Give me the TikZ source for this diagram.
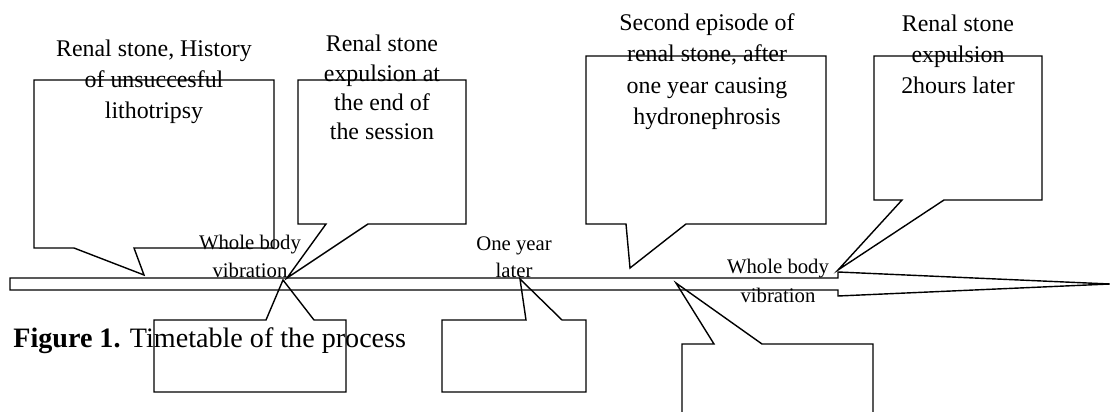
\documentclass[tikz,border=0pt]{standalone}
\usepackage{fontspec}
\setmainfont{Liberation Serif}
\usepackage{tikz}
\usetikzlibrary{positioning,calc}

\tikzset{
    bubble/.style={draw, line width=0.8pt, line join=miter},
    bubbletext/.style={align=center, inner sep=0pt, anchor=base, font=\fontsize{13.6}{17.9}\selectfont},
    ticktext/.style={align=center, inner sep=0pt, anchor=base, font=\fontsize{11.8}{15.9}\selectfont}
}

\begin{document}
\begin{tikzpicture}[x=0.02cm, y=-0.02cm]
    \clip (0,0) rectangle (1110,412);
    \useasboundingbox (0,0) rectangle (1110,412);
    % time line
    \draw[bubble] (10,278) -- (838,278) -- (838,272) -- (1110,284) -- (838,296) -- (838,290) -- (10,290) -- cycle;
    % callouts above the line
    \draw[bubble] (34,80) -- (274,80) -- (274,248) -- (134,248) -- (144,275) -- (74,248) -- (34,248) -- cycle;
    \draw[bubble] (298,80) -- (466,80) -- (466,224) -- (368,224) -- (287,278) -- (326,224) -- (298,224) -- cycle;
    \draw[bubble] (586,56) -- (826,56) -- (826,224) -- (686,224) -- (630,268) -- (626,224) -- (586,224) -- cycle;
    \draw[bubble] (874,56) -- (1042,56) -- (1042,200) -- (944,200) -- (838,270) -- (902,200) -- (874,200) -- cycle;
    % callouts below the line
    \draw[bubble] (154,392) -- (154,320) -- (266,320) -- (283,280) -- (314,320) -- (346,320) -- (346,392) -- cycle;
    \draw[bubble] (442,392) -- (442,320) -- (526,320) -- (520,279) -- (562,320) -- (586,320) -- (586,392) -- cycle;
    \draw[bubble] (682,430) -- (682,344) -- (714,344) -- (676,283) -- (762,344) -- (873,344) -- (873,430);
    % texts (base = last line)
    \node[bubbletext] (history) at (154,119) {Renal stone, History\\of unsuccesful\\lithotripsy};
    \node[bubbletext, font=\fontsize{13.6}{16.7}\selectfont] (expulsion) at (382,140) {Renal stone\\expulsion at\\the end of\\the session};
    \node[bubbletext, font=\fontsize{13.6}{18}\selectfont] (episode) at (707,125) {Second episode of\\renal stone, after\\one year causing\\hydronephrosis};
    \node[bubbletext] (later) at (958,94) {Renal stone\\expulsion\\2hours later};
    \node[ticktext] (wbvA) at (250,277) {Whole body\\vibration};
    \node[ticktext, font=\fontsize{11.8}{15.3}\selectfont] (year) at (514,277) {One year\\later};
    \node[ticktext, font=\fontsize{11.8}{16.4}\selectfont] (wbvB) at (778,302) {Whole body\\vibration};
    \node[anchor=base west, inner sep=0pt, font=\fontsize{16}{19}\selectfont] (caption) at (13,347) {\textbf{Figure 1.} Timetable of the process};
\end{tikzpicture}
\end{document}
